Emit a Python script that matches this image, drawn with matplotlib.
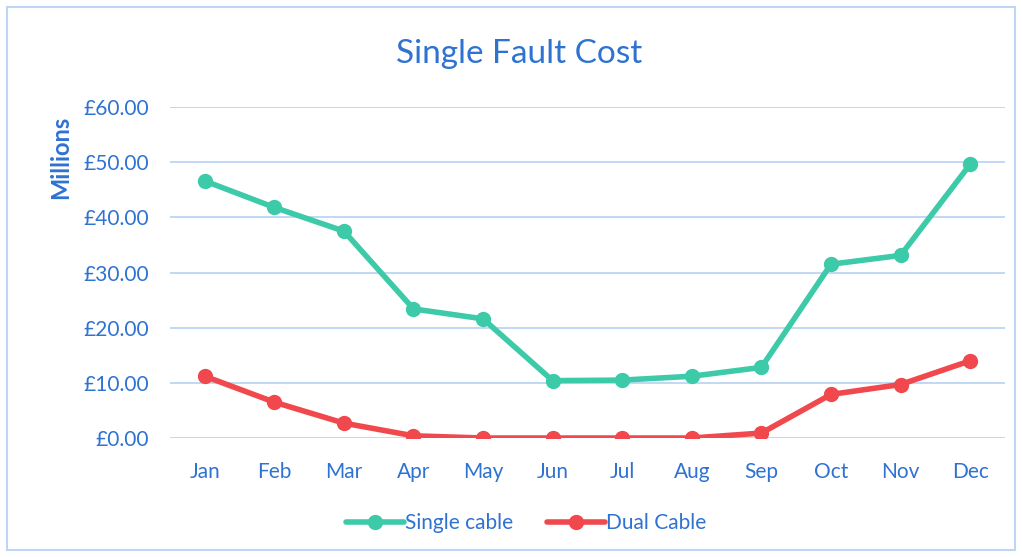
import matplotlib
matplotlib.use("Agg")
import matplotlib.pyplot as plt
from matplotlib.patches import Rectangle

months = ["Jan", "Feb", "Mar", "Apr", "May", "Jun", "Jul", "Aug", "Sep", "Oct", "Nov", "Dec"]
single_cable = [46.6, 41.8, 37.5, 23.4, 21.6, 10.4, 10.5, 11.2, 12.8, 31.5, 33.1, 49.6]
dual_cable = [11.2, 6.5, 2.7, 0.4, 0.0, 0.0, 0.0, 0.0, 0.9, 7.9, 9.7, 14.0]
y_ticks = [0, 10, 20, 30, 40, 50, 60]

TEXT_BLUE = "#2e72d2"
GREEN = "#3dcaa8"
RED = "#f0484d"
GRID = "#bcd6f4"

plt.rcParams['font.family'] = ['Lato', 'DejaVu Sans']

fig = plt.figure(figsize=(10.22, 5.57), dpi=100)
ax = fig.add_axes([0.1663, 0.2136, 0.8170, 0.5943])

# light blue frame around the whole chart
fig.patches.append(Rectangle((0.007, 0.012), 0.986, 0.975, transform=fig.transFigure,
                             fill=False, edgecolor="#bcd6f4", linewidth=1.5))

x = range(len(months))
ax.plot(x, single_cable, color=GREEN, lw=4, marker="o", ms=10, label="Single cable",
        solid_capstyle="round", zorder=3)
ax.plot(x, dual_cable, color=RED, lw=4, marker="o", ms=10, label="Dual Cable",
        solid_capstyle="round", zorder=3)

ax.set_xlim(-0.5, len(months) - 0.5)
ax.set_ylim(0, 60)
ax.set_yticks(y_ticks)
ax.set_yticklabels(["£{:.2f}".format(v) for v in y_ticks])
ax.set_xticks(list(x))
ax.set_xticklabels(months)
ax.tick_params(colors=TEXT_BLUE, labelsize=15, length=0)
ax.tick_params(axis="x", pad=17)
ax.tick_params(axis="y", pad=15)
ax.yaxis.grid(True, color=GRID, lw=1.3)
ax.set_axisbelow(True)
for s in ax.spines.values():
    s.set_visible(False)

fig.text(0.059, 0.718, "Millions", color=TEXT_BLUE, fontsize=17, fontweight="bold",
         rotation=90, ha="center", va="center")
fig.text(0.508, 0.903, "Single Fault Cost", color=TEXT_BLUE, fontsize=24,
         ha="center", va="center")

fig.legend(loc="center", bbox_to_anchor=(0.515, 0.061), ncol=2, frameon=False,
           fontsize=15, labelcolor=TEXT_BLUE, handlelength=2.8, handletextpad=0.05,
           columnspacing=1.6)

fig.savefig("out.png", dpi=100)
